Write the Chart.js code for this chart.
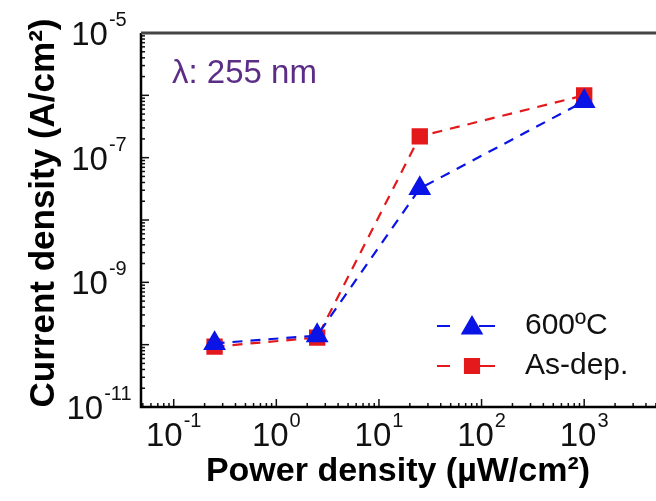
<!DOCTYPE html>
<html>
<head>
<meta charset="utf-8">
<script src="https://cdn.jsdelivr.net/npm/chart.js@4.4.1/dist/chart.umd.min.js"></script>
<style>
  html, body { margin: 0; padding: 0; background: #fff; overflow: hidden; }
  #wrap { width: 700px; height: 501px; position: relative; }
</style>
</head>
<body>
<div id="wrap"><canvas id="chart"></canvas></div>
<script>
// power density (uW/cm2)
const powerDensity = [0.25, 2.5, 25, 1000];
// current density (A/cm2)
const annealed600 = [1.05e-10, 1.4e-10, 3.2e-8, 8.0e-7];
const asDeposited = [9.3e-11, 1.3e-10, 2.2e-7, 1.0e-6];
const seriesNames = ['600\u00BAC', 'As-dep.'];
const xTickExps = [-1, 0, 1, 2, 3];
const yTickExps = [-5, -7, -9, -11];

const FONT = '"Liberation Sans", Arial, sans-serif';
const BLUE = '#0a14e6';
const RED = '#e3191c';

function drawPow(ctx, exp, x, y, align) {
    // "10" + superscript exponent, y = baseline of "10"
    ctx.font = '33px ' + FONT;
    const baseW = ctx.measureText('10').width;
    ctx.font = '20px ' + FONT;
    const expStr = String(exp);
    const expW = ctx.measureText(expStr).width;
    const total = baseW + expW + 1;
    let left = x;
    if (align === 'center') left = x - total / 2;
    else if (align === 'right') left = x - total;
    ctx.fillStyle = '#111';
    ctx.textAlign = 'left';
    ctx.textBaseline = 'alphabetic';
    ctx.font = '33px ' + FONT;
    ctx.fillText('10', left, y);
    ctx.font = '20px ' + FONT;
    ctx.fillText(expStr, left + baseW + 1, y - 19);
}

const framePlugin = {
    id: 'frame',
    beforeDatasetsDraw(chart) {
        const {ctx, chartArea: a, scales: {x, y}} = chart;
        ctx.save();
        ctx.strokeStyle = '#111';
        ctx.lineWidth = 1.5;
        // x ticks (inward)
        for (let e = -2; e <= 4; e++) {
            for (let m = 1; m <= 9; m++) {
                const v = m * Math.pow(10, e);
                if (v < x.min || v > x.max) continue;
                const px = x.getPixelForValue(v);
                const len = m === 1 ? 8 : 4;
                ctx.beginPath();
                ctx.moveTo(px, a.bottom);
                ctx.lineTo(px, a.bottom - len);
                ctx.stroke();
            }
        }
        // y ticks (inward)
        for (let e = -11; e <= -6; e++) {
            for (let m = 1; m <= 9; m++) {
                const v = m * Math.pow(10, e);
                if (v < y.min || v > y.max) continue;
                const py = y.getPixelForValue(v);
                const len = m === 1 ? 8 : 4;
                ctx.beginPath();
                ctx.moveTo(a.left, py);
                ctx.lineTo(a.left + len, py);
                ctx.stroke();
            }
        }
        // axes
        ctx.lineWidth = 2.5;
        ctx.strokeStyle = '#000';
        ctx.beginPath();
        ctx.moveTo(a.left, a.top);
        ctx.lineTo(a.left, a.bottom);
        ctx.lineTo(a.right, a.bottom);
        ctx.stroke();
        ctx.strokeStyle = '#444';
        ctx.lineWidth = 3;
        ctx.beginPath();
        ctx.moveTo(a.left, a.top);
        ctx.lineTo(a.right, a.top);
        ctx.lineTo(a.right, a.bottom);
        ctx.stroke();
        ctx.restore();
    },
    afterDraw(chart) {
        const {ctx, chartArea: a, scales: {x, y}} = chart;
        ctx.save();
        xTickExps.forEach(e => drawPow(ctx, e, x.getPixelForValue(Math.pow(10, e)), 446, 'center'));
        yTickExps.forEach(e => drawPow(ctx, e, 99, y.getPixelForValue(Math.pow(10, e)) + 12, 'center'));

        // axis titles
        ctx.fillStyle = '#000';
        ctx.font = 'bold 34px ' + FONT;
        ctx.textAlign = 'center';
        ctx.textBaseline = 'alphabetic';
        ctx.fillText('Power density (\u00B5W/cm\u00B2)', 398, 481);
        ctx.save();
        ctx.translate(54, 213);
        ctx.rotate(-Math.PI / 2);
        ctx.font = 'bold 35px ' + FONT;
        ctx.fillText('Current density (A/cm\u00B2)', 0, 0);
        ctx.restore();

        // wavelength note
        ctx.fillStyle = '#5b2d86';
        ctx.font = '33px ' + FONT;
        ctx.textAlign = 'left';
        ctx.fillText('\u03BB: 255 nm', 172, 83);

        // legend
        chart.data.datasets.forEach((ds, i) => {
            const ly = 326 + i * 40;
            ctx.strokeStyle = ds.borderColor;
            ctx.lineWidth = 2;
            ctx.beginPath();
            ctx.moveTo(437, ly); ctx.lineTo(450, ly);
            ctx.moveTo(479, ly); ctx.lineTo(495, ly);
            ctx.stroke();
            Chart.helpers.drawPoint(ctx, {
                pointStyle: ds.pointStyle, radius: ds.pointRadius, borderWidth: 1
            }, 472, ly + (ds.pointStyle === 'triangle' ? 2 : 0));
            ctx.fillStyle = ds.pointBackgroundColor;
            ctx.fill();
            ctx.fillStyle = '#111';
            ctx.font = '30px ' + FONT;
            ctx.textBaseline = 'middle';
            ctx.fillText(seriesNames[i], 525, ly);
            ctx.textBaseline = 'alphabetic';
        });
        ctx.restore();
    }
};

function makeSet(label, values, color, style, radius) {
    return {
        label: label,
        data: powerDensity.map((p, i) => ({x: p, y: values[i]})),
        borderColor: color,
        backgroundColor: color,
        pointBackgroundColor: color,
        pointBorderColor: color,
        borderWidth: 2.2,
        borderDash: [10, 8],
        pointStyle: style,
        pointRadius: radius,
        pointHoverRadius: radius,
        tension: 0
    };
}

new Chart(document.getElementById('chart'), {
    type: 'line',
    data: {
        datasets: [
            makeSet(seriesNames[0], annealed600, BLUE, 'triangle', 11),
            makeSet(seriesNames[1], asDeposited, RED, 'rect', 10)
        ]
    },
    options: {
        responsive: true,
        maintainAspectRatio: false,
        animation: false,
        layout: { padding: { left: 141, top: 33, right: 8, bottom: 94 } },
        plugins: { legend: { display: false }, tooltip: { enabled: false } },
        scales: {
            x: { type: 'logarithmic', min: 0.048, max: 10000, display: false },
            y: { type: 'logarithmic', min: 1e-11, max: 1e-5, display: false }
        }
    },
    plugins: [framePlugin]
});
</script>
</body>
</html>
